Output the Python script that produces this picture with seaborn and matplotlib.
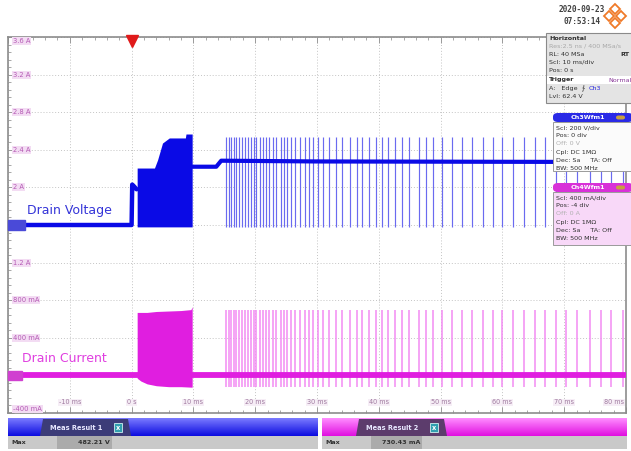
import numpy as np
import pandas as pd
import matplotlib
matplotlib.use("Agg")
import matplotlib.pyplot as plt
from matplotlib.patches import Rectangle, FancyBboxPatch, Polygon
import seaborn as sns

# ---------------- waveform data ----------------
# time axis in ms, screen spans 10 divisions of 10 ms
t_min, t_max = -20, 80

# Ch3 drain voltage (V): DC trace before and after the soft-start burst
v_pre_t = [-20, 0.0, 0.1, 0.4, 0.8]
v_pre = [0, 0, 215, 205, 190]
v_post_t = [9.8, 13.7, 14.5, 30, 80]
v_post = [310, 310, 342, 338, 335]
# envelope of the dense switching burst (V)
v_burst_t = [0.9, 3.7, 4.2, 5.0, 6.1, 8.7, 8.8, 9.8]
v_burst_top = [303, 303, 346, 436, 463, 463, 484, 484]
v_burst_bot = [-10, -10, -10, -10, -10, -10, -10, -10]

# Ch4 drain current (A)
i_base_t = [-20, 80]
i_base = [0, 0]
i_burst_t = [0.9, 1.5, 2.5, 4.0, 6.0, 8.0, 9.6, 9.8]
i_burst_top = [0.67, 0.67, 0.67, 0.68, 0.685, 0.69, 0.70, 0.73]
i_burst_bot = [-0.03, -0.06, -0.09, -0.11, -0.12, -0.12, -0.125, -0.125]

# burst-mode switching packets after start-up (ms)
pulse_t = [15.3, 15.7, 16.1, 16.5, 16.9, 17.4, 17.8, 18.3, 18.8, 19.4,
           19.8, 20.2, 20.8, 21.2, 21.8, 22.3, 22.9, 23.3, 24.1, 24.6,
           25.2, 25.8, 26.5, 27.2, 28.0, 28.7, 29.4, 30.1, 31.0, 31.9,
           33.0, 34.1, 35.4, 36.5, 37.3, 38.4, 39.5, 40.5, 41.5, 42.7,
           43.7, 44.9, 46.5, 47.6, 48.8, 50.2, 51.9, 53.5, 55.0, 56.8,
           58.4, 60.0, 61.7, 63.5, 65.2, 66.9, 68.6, 70.3, 72.1, 74.1,
           76.0, 77.6, 79.5]
pulse_v_top, pulse_v_bot = 470, -10
pulse_i_top, pulse_i_bot = 0.70, -0.12

# axis annotations
y_tick_vals = [3.6, 3.2, 2.8, 2.4, 2.0, 1.2, 0.8, 0.4, -0.4]
y_tick_text = ["3.6 A", "3.2 A", "2.8 A", "2.4 A", "2 A", "1.2 A",
               "800 mA", "400 mA", "-400 mA"]
x_tick_vals = [-10, 0, 10, 20, 30, 40, 50, 60, 70, 80]
x_tick_text = ["-10 ms", "0 s", "10 ms", "20 ms", "30 ms", "40 ms",
               "50 ms", "60 ms", "70 ms", "80 ms"]

meas1_label, meas1_value = "Max", "482.21 V"
meas2_label, meas2_value = "Max", "730.43 mA"

# ---------------- styling ----------------
sns.set_theme(style="white", rc={"axes.edgecolor": "#8c8c8c"})
plt.rcParams["font.family"] = ["DejaVu Sans"]

BLUE = "#0a0ae6"
BLUE_LIGHT = "#6a6af0"
MAG = "#e01ee0"
MAG_LIGHT = "#f28cf2"

W, H = 631, 451
fig = plt.figure(figsize=(W / 100, H / 100), dpi=100)
fig.patch.set_facecolor("white")


def fx(x):
    return x / W


def fy(y):
    return 1 - y / H


ax = fig.add_axes([fx(8), fy(413), (626 - 8) / W, (413 - 37) / H])
ax.set_xlim(t_min, t_max)
ax.set_ylim(-0.4, 3.6)
ax.set_xticks(np.arange(-20, 81, 10))
ax.set_yticks(np.arange(-0.4, 3.61, 0.4))
ax.set_xticks(np.arange(-20, 81, 2), minor=True)
ax.set_yticks(np.arange(-0.4, 3.61, 0.08), minor=True)
ax.grid(True, which="major", color="#c4c4c4", linestyle=(0, (1, 2)), linewidth=0.7)
ax.tick_params(which="both", direction="in", labelleft=False, labelbottom=False,
               left=True, bottom=True, top=True, right=True, color="#9a9a9a")
ax.tick_params(which="major", length=4, width=0.7)
ax.tick_params(which="minor", length=2, width=0.6)
for s in ax.spines.values():
    s.set_linewidth(1.2)
ax.set_xlabel("")
ax.set_ylabel("")

# voltage on its own scale: 200 V/div, centred
axv = ax.twinx()
axv.set_ylim(-1000, 1000)
axv.set_yticks([])
axv.patch.set_alpha(0)
for s in axv.spines.values():
    s.set_visible(False)
axv.set_ylabel("")

# ---- Ch4 current ----
ax.vlines(pulse_t, pulse_i_bot, pulse_i_top, color=MAG_LIGHT, linewidth=1.1, zorder=2)
ax.fill_between(i_burst_t, i_burst_bot, i_burst_top, color=MAG, linewidth=0, zorder=3)
sns.lineplot(x=i_base_t, y=i_base, ax=ax, color=MAG, linewidth=4.2,
             estimator=None, sort=False, zorder=4)

# ---- Ch3 voltage ----
axv.vlines(pulse_t, pulse_v_bot, pulse_v_top, color=BLUE_LIGHT, linewidth=0.85, zorder=2)
axv.fill_between(v_burst_t, v_burst_bot, v_burst_top, color=BLUE, linewidth=0, zorder=3)
sns.lineplot(x=v_pre_t, y=v_pre, ax=axv, color=BLUE, linewidth=3.2,
             estimator=None, sort=False, zorder=4)
sns.lineplot(x=v_post_t, y=v_post, ax=axv, color=BLUE, linewidth=3.0,
             estimator=None, sort=False, zorder=4)

# trace names
axv.text(-16.9, 40, "Drain Voltage", color="#3434d8", fontsize=9.0, ha="left", va="bottom")
ax.text(-17.7, 0.115, "Drain Current", color="#e03ee0", fontsize=9.0, ha="left", va="bottom")

# channel reference markers on the left edge
axv.add_patch(Rectangle((0.0, -24), 0.028, 48, transform=axv.get_yaxis_transform(),
                        color="#4a4ad8", clip_on=False, zorder=5))
ax.add_patch(Rectangle((0.0, -0.045), 0.022, 0.09, transform=ax.get_yaxis_transform(),
                       color="#d040d0", clip_on=False, zorder=5))

# trigger marker
ax.plot([0], [3.555], marker="v", color="#e01a1a", markersize=8, clip_on=False, zorder=6)

# on-screen scale labels
ytr = ax.get_yaxis_transform()
for v, s in zip(y_tick_vals, y_tick_text):
    yy = v - 0.04 if v == 3.6 else (v + 0.04 if v == -0.4 else v)
    ax.text(0.008, yy, s, transform=ytr, fontsize=4.9, color="#b45ab4",
            ha="left", va="center", zorder=7,
            bbox=dict(boxstyle="square,pad=0.15", fc="#f3dcf3", ec="none"))
xtr = ax.get_xaxis_transform()
for v, s in zip(x_tick_vals, x_tick_text):
    ha = "right" if v == 80 else "center"
    xx = 79.6 if v == 80 else v
    ax.text(xx, 0.02, s, transform=xtr, fontsize=4.7, color="#a07aa0",
            ha=ha, va="bottom", zorder=7,
            bbox=dict(boxstyle="square,pad=0.15", fc="#f6eef6", ec="none"))

# ---------------- screen furniture (figure coords) ----------------
def rect(x0, y0, x1, y1, **kw):
    fig.patches.append(Rectangle((fx(x0), fy(y1)), fx(x1) - fx(x0), fy(y0) - fy(y1),
                                 transform=fig.transFigure, **kw))


def txt(x, y, s, **kw):
    kw.setdefault("fontsize", 4.6)
    kw.setdefault("va", "center")
    kw.setdefault("color", "#303030")
    fig.text(fx(x), fy(y), s, **kw)


# timestamp and logo
txt(582, 10, "2020-09-23", ha="center", fontsize=5.6, fontweight="bold",
    family="DejaVu Sans Mono", color="#404040")
txt(582, 21, "07:53:14", ha="center", fontsize=5.6, fontweight="bold",
    family="DejaVu Sans Mono", color="#404040")
for cx, cy in [(615, 9), (609, 16), (621, 16), (615, 23)]:
    fig.patches.append(Polygon([(fx(cx), fy(cy - 5)), (fx(cx + 5), fy(cy)),
                                (fx(cx), fy(cy + 5)), (fx(cx - 5), fy(cy))],
                               closed=True, transform=fig.transFigure,
                               fc="none", ec="#f07a28", lw=1.3))

# horizontal / trigger info box
rect(546, 33, 633, 103, fc="#e4e4e4", ec="#8a8a8a", lw=0.8, zorder=10)
rect(547, 76, 633, 84, fc="#ffffff", ec="none", zorder=10)
txt(549, 38, "Horizontal", fontweight="bold", zorder=11)
txt(549, 46, "Res:2.5 ns / 400 MSa/s", color="#a8a8a8", zorder=11)
txt(549, 54, "RL: 40 MSa", zorder=11)
txt(620, 54, "RT", fontweight="bold", zorder=11)
txt(549, 62, "Scl: 10 ms/div", zorder=11)
txt(549, 70, "Pos: 0 s", zorder=11)
txt(549, 80, "Trigger", fontweight="bold", zorder=11)
txt(608, 80, "Normal", color="#8a3a9a", zorder=11)
txt(549, 89, "A:   Edge  \u2231", zorder=11)
txt(589, 89, "Ch3", color="#2a2ae0", zorder=11)
txt(549, 97, "Lvl: 62.4 V", zorder=11)

# channel info boxes
def chan_box(y0, y1, title, head, body, lines):
    rect(553, y0 + 9, 633, y1, fc=body, ec="#9a9a9a", lw=0.7, zorder=10)
    fig.patches.append(FancyBboxPatch((fx(553), fy(y0 + 9)), fx(80), fy(0) - fy(9),
                                      boxstyle="round,pad=0,rounding_size=0.008",
                                      transform=fig.transFigure, fc=head, ec="none", zorder=11))
    txt(588, y0 + 4.5, title, color="white", fontweight="bold", ha="center", zorder=12)
    fig.patches.append(FancyBboxPatch((fx(616), fy(y0 + 6.5)), fx(9), fy(0) - fy(4),
                                      boxstyle="round,pad=0,rounding_size=0.004",
                                      transform=fig.transFigure, fc="#c8a040", ec="none", zorder=12))
    for k, (s, c) in enumerate(lines):
        txt(556, y0 + 14.5 + 8.2 * k, s, color=c, zorder=12)


dark, faded = "#303030", "#b0b0b0"
chan_box(113, 171, "Ch3Wfm1", "#2a2ae6", "#fbfbfb",
         [("Scl: 200 V/div", dark), ("Pos: 0 div", dark), ("Off: 0 V", faded),
          ("Cpl: DC 1M\u03a9", dark), ("Dec: Sa     TA: Off", dark), ("BW: 500 MHz", dark)])
chan_box(183, 245, "Ch4Wfm1", "#d830d8", "#f8d8f8",
         [("Scl: 400 mA/div", dark), ("Pos: -4 div", dark), ("Off: 0 A", faded),
          ("Cpl: DC 1M\u03a9", dark), ("Dec: Sa     TA: Off", dark), ("BW: 500 MHz", dark)])

# measurement result bars
grad = np.linspace(0, 1, 32).reshape(-1, 1)
for (x0, x1, c_top, c_bot, tab_x, tab_c, label, value, vx) in [
        (8, 318, "#7a7aff", "#0c0ce0", 40, "#3c3c78", "Meas Result 1", meas1_value, 110),
        (322, 627, "#ff8cff", "#e010e0", 356, "#5c3c6c", "Meas Result 2", meas2_value, 420)]:
    cmap = matplotlib.colors.LinearSegmentedColormap.from_list("g", [c_top, c_bot])
    bax = fig.add_axes([fx(x0), fy(436), fx(x1 - x0), fy(0) - fy(18)])
    bax.imshow(grad, aspect="auto", cmap=cmap, extent=[0, 1, 0, 1])
    bax.set_axis_off()
    fig.patches.append(Polygon([(fx(tab_x), fy(436)), (fx(tab_x + 3), fy(419)),
                                (fx(tab_x + 88), fy(419)), (fx(tab_x + 91), fy(436))],
                               closed=True, transform=fig.transFigure, fc=tab_c, ec="none",
                               zorder=10))
    txt(tab_x + 10, 427.5, label, color="#e8e8ff", fontweight="bold", fontsize=4.8, zorder=11)
    rect(tab_x + 74, 423, tab_x + 82, 432, fc="#30a0b0", ec="#d0f0f0", lw=0.6, zorder=11)
    txt(tab_x + 78, 427.5, "x", color="white", fontweight="bold", ha="center",
        fontsize=4.8, zorder=12)
    rect(x0, 436, x1, 449, fc="#c9c9c9", ec="none", zorder=10)
    rect(x0 + 49, 436, vx + 2, 449, fc="#ababab", ec="none", zorder=10)
    txt(x0 + 3, 442.5, meas1_label if x0 < 300 else meas2_label, fontweight="bold", zorder=11)
    txt(vx, 442.5, value, fontweight="bold", ha="right", zorder=11)

fig.savefig("out.png", dpi=100)
